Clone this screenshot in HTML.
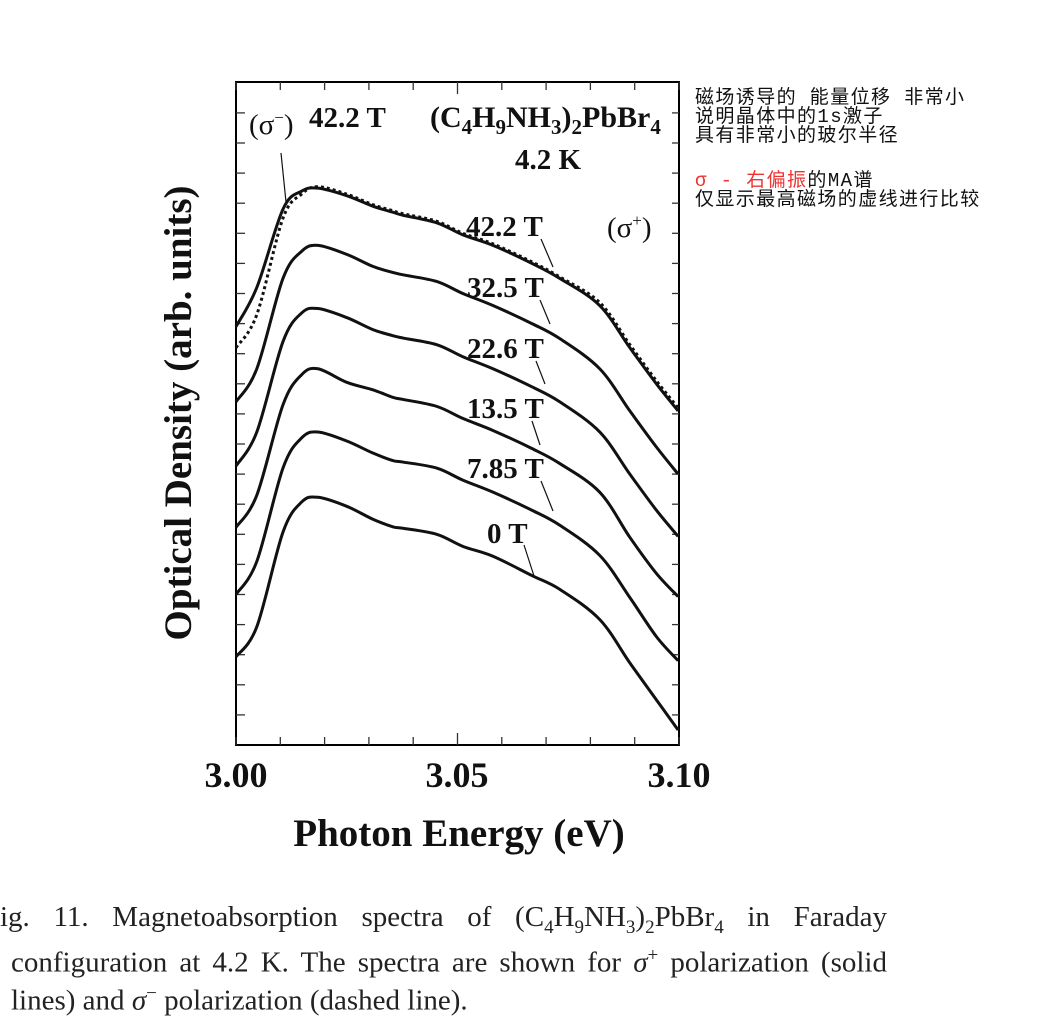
<!DOCTYPE html>
<html><head><meta charset="utf-8">
<style>
body{margin:0;background:#fff;width:1056px;height:1030px;overflow:hidden;position:relative;font-family:"Liberation Serif","Noto Serif CJK SC",serif;}
.note{position:absolute;left:695px;font-family:"Liberation Mono","Noto Sans CJK SC",monospace;font-size:19px;line-height:19px;color:#111;white-space:pre;letter-spacing:1.4px}
.cap{position:absolute;left:0;width:887px;font-size:29px;line-height:34px;text-align:justify;text-align-last:justify;white-space:nowrap;color:#222}
</style></head><body>
<svg id="chart" width="1056" height="1030" style="position:absolute;left:0;top:0" font-family="Liberation Serif, serif">
<rect x="236" y="82" width="443" height="663" fill="none" stroke="#000" stroke-width="2"/>
<g id="ticks"></g>
<g id="curves"></g>
<g id="labels" font-weight="bold" fill="#111">
<text x="236" y="787" font-size="36" text-anchor="middle">3.00</text>
<text x="457" y="787" font-size="36" text-anchor="middle">3.05</text>
<text x="679" y="787" font-size="36" text-anchor="middle">3.10</text>
<text x="459" y="846" font-size="39" text-anchor="middle">Photon Energy (eV)</text>
<text transform="translate(191,413) rotate(-90)" font-size="39" text-anchor="middle">Optical Density (arb. units)</text>
<text x="249" y="134" font-size="29" font-weight="normal">(σ<tspan dy="-11" font-size="17">−</tspan><tspan dy="11">)</tspan></text>
<text x="309" y="127" font-size="29">42.2 T</text>
<text x="430" y="127" font-size="30">(C<tspan dy="7" font-size="21">4</tspan><tspan dy="-7">H</tspan><tspan dy="7" font-size="21">9</tspan><tspan dy="-7">NH</tspan><tspan dy="7" font-size="21">3</tspan><tspan dy="-7">)</tspan><tspan dy="7" font-size="21">2</tspan><tspan dy="-7">PbBr</tspan><tspan dy="7" font-size="21">4</tspan></text>
<text x="515" y="169" font-size="29">4.2 K</text>
<text x="607" y="237" font-size="29" font-weight="normal">(σ<tspan dy="-11" font-size="17">+</tspan><tspan dy="11">)</tspan></text>
<text x="466" y="236" font-size="29">42.2 T</text>
<text x="467" y="297" font-size="29">32.5 T</text>
<text x="467" y="358" font-size="29">22.6 T</text>
<text x="467" y="418" font-size="29">13.5 T</text>
<text x="467" y="478" font-size="29">7.85 T</text>
<text x="487" y="543" font-size="29">0 T</text>
</g>
<g stroke="#111" stroke-width="1.2" fill="none">
<line x1="281" y1="153" x2="286" y2="202"/>
<line x1="541" y1="239" x2="553" y2="267"/>
<line x1="540" y1="300" x2="550" y2="324"/>
<line x1="536" y1="361" x2="545" y2="384"/>
<line x1="532" y1="421" x2="540" y2="445"/>
<line x1="541" y1="481" x2="553" y2="511"/>
<line x1="524" y1="545" x2="534" y2="576"/>
</g>
</svg>

<div class="note" style="top:89px">磁场诱导的 能量位移 非常小
说明晶体中的1s激子
具有非常小的玻尔半径</div>
<div class="note" style="top:172px"><span style="color:#e33">σ - 右偏振</span>的MA谱
仅显示最高磁场的虚线进行比较</div>

<div class="cap" style="top:900px">ig. 11.  Magnetoabsorption spectra of (C<sub style="font-size:19px">4</sub>H<sub style="font-size:19px">9</sub>NH<sub style="font-size:19px">3</sub>)<sub style="font-size:19px">2</sub>PbBr<sub style="font-size:19px">4</sub> in Faraday</div>
<div class="cap" style="top:939px;left:11px;width:876px">configuration at 4.2 K. The spectra are shown for <i>σ</i><sup style="font-size:19px">+</sup> polarization (solid</div>
<div class="cap" style="top:977px;left:11px;width:auto;text-align-last:auto">lines) and <i>σ</i><sup style="font-size:19px">−</sup> polarization (dashed line).</div>

<script>
const energies = [3.000,3.0047,3.0106,3.0148,3.0185,3.025,3.0309,3.0354,3.0377,3.0453,3.0512,3.058,3.0668,3.0731,3.0821,3.0889,3.0949,3.0998];
const od0T   = [2.93,3.93,7.07,8.07,8.23,7.93,7.5,7.25,7.2,7.0,6.6,6.27,5.63,5.17,4.17,2.73,1.5,0.5];
const od785T = [5.0,6.1,9.2,10.2,10.4,10.1,9.7,9.45,9.4,9.2,8.8,8.4,7.8,7.3,6.3,4.9,3.6,2.8];
const od135T = [7.23,8.3,11.3,12.3,12.5,12.05,11.8,11.55,11.48,11.25,10.85,10.45,9.85,9.35,8.4,6.9,5.7,4.93];
const od226T = [9.27,10.4,13.4,14.35,14.5,14.2,13.8,13.6,13.52,13.3,12.9,12.5,11.9,11.4,10.4,9.0,7.8,6.93];
const od325T = [11.4,12.5,15.5,16.4,16.6,16.3,15.9,15.7,15.62,15.4,15.0,14.6,14.0,13.5,12.5,11.1,9.9,9.0];
const od422T = [13.9,15.2,17.8,18.4,18.5,18.25,17.9,17.7,17.6,17.35,16.95,16.6,16.0,15.5,14.6,13.2,12.0,11.1];
const od422Tminus = [13.2,14.3,17.5,18.3,18.55,18.3,17.95,17.75,17.65,17.4,17.0,16.65,16.05,15.55,14.7,13.3,12.1,11.2];
const xTicks = [3.00,3.01,3.02,3.03,3.04,3.05,3.06,3.07,3.08,3.09,3.10];
const yTicks = [1,2,3,4,5,6,7,8,9,10,11,12,13,14,15,16,17,18,19,20,21];

const X0=236,X1=679,Y0=745;
function sx(e){return X0+(e-3.0)/0.1*(X1-X0);}
function sy(v){return Y0-v*30.1;}
const NS='http://www.w3.org/2000/svg';
const tg=document.getElementById('ticks');
xTicks.forEach((t,i)=>{
  const len=(i===5)?12:8;
  for(const side of [0,1]){
    const l=document.createElementNS(NS,'line');
    
    
    const x=sx(t);
    l.setAttribute('x1',x);l.setAttribute('x2',x);
    if(side===0){l.setAttribute('y1',Y0);l.setAttribute('y2',Y0-len);}
    else{l.setAttribute('y1',82);l.setAttribute('y2',82+len);}
    l.setAttribute('stroke','#333');l.setAttribute('stroke-width','1.3');
    tg.appendChild(l);
  }
});
yTicks.forEach(t=>{
  for(const side of [0,1]){
    const l=document.createElementNS(NS,'line');
    
    
    const y=sy(t);
    l.setAttribute('y1',y);l.setAttribute('y2',y);
    if(side===0){l.setAttribute('x1',X0);l.setAttribute('x2',X0+9);}
    else{l.setAttribute('x1',X1);l.setAttribute('x2',X1-7);}
    l.setAttribute('stroke','#333');l.setAttribute('stroke-width','1.3');
    tg.appendChild(l);
  }
});
function pathFor(vals){
  const p=energies.map((e,i)=>[sx(e),sy(vals[i])]);
  let d='M'+p[0][0]+','+p[0][1];
  for(let i=0;i<p.length-1;i++){
    const a=p[Math.max(0,i-1)],b=p[i],c=p[i+1],n=p[Math.min(p.length-1,i+2)];
    const c1=[b[0]+(c[0]-a[0])/6,b[1]+(c[1]-a[1])/6];
    const c2=[c[0]-(n[0]-b[0])/6,c[1]-(n[1]-b[1])/6];
    d+=' C'+c1[0]+','+c1[1]+' '+c2[0]+','+c2[1]+' '+c[0]+','+c[1];
  }
  return d;
}
const cg=document.getElementById('curves');
const series=[[od0T,'curve-0T'],[od785T,'curve-7.85T'],[od135T,'curve-13.5T'],[od226T,'curve-22.6T'],[od325T,'curve-32.5T'],[od422T,'curve-42.2T']];
series.forEach(([v,n])=>{
  const p=document.createElementNS(NS,'path');
  
  
  p.setAttribute('d',pathFor(v));
  p.setAttribute('fill','none');p.setAttribute('stroke','#111');p.setAttribute('stroke-width','3');
  cg.appendChild(p);
});
const dp=document.createElementNS(NS,'path');


dp.setAttribute('d',pathFor(od422Tminus));
dp.setAttribute('fill','none');dp.setAttribute('stroke','#111');dp.setAttribute('stroke-width','3');dp.setAttribute('stroke-dasharray','3,3');
cg.appendChild(dp);
</script>
</body></html>
